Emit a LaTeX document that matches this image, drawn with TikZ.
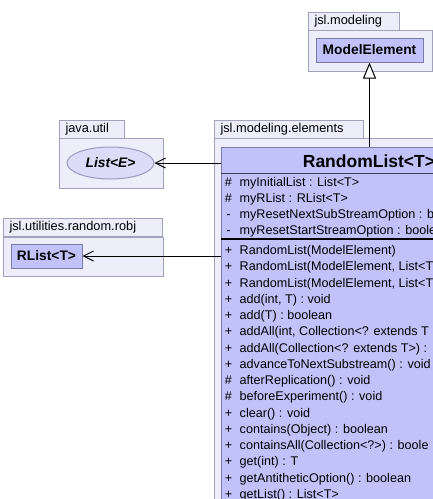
\documentclass[tikz,border=0pt]{standalone}
\usepackage{fontspec}
\setmainfont{Liberation Sans}
\usetikzlibrary{arrows.meta,shapes.geometric}

\definecolor{pkgfill}{HTML}{EEEEFB}
\definecolor{pkgdraw}{HTML}{A2A2BC}
\definecolor{clsfill}{HTML}{C2C2FB}
\definecolor{clsdraw}{HTML}{7A7AA8}
\definecolor{ifcfill}{HTML}{DCDCF8}

\tikzstyle{umlpkgtab}=[
    draw=pkgdraw, fill=pkgfill, line width=1pt,
    anchor=north west, align=left,
    inner xsep=6pt, inner ysep=0pt,
    minimum height=18pt, text height=9.5pt, text depth=2.7pt,
    font=\fontsize{12.8}{14}\selectfont,
]
\tikzstyle{umlpkgbody}=[
    draw=pkgdraw, fill=pkgfill, line width=1pt,
    anchor=north west, inner sep=0pt,
]
\tikzstyle{umlclass}=[
    draw=clsdraw, fill=clsfill, line width=1pt, inner sep=0pt,
    font=\fontsize{13.8}{15}\selectfont\bfseries,
]
\tikzstyle{umliface}=[
    ellipse, draw=clsdraw!75, fill=ifcfill, line width=1pt, inner sep=0pt,
    font=\fontsize{13.8}{15}\selectfont\bfseries\itshape,
]
\tikzstyle{umlvis}=[anchor=base, inner sep=0pt, font=\fontsize{12.6}{14}\selectfont]
\tikzstyle{umlmember}=[anchor=base west, inner sep=0pt, font=\fontsize{12.6}{14}\selectfont]
\tikzstyle{umlassoc}=[line width=1pt, -{Straight Barb[length=10pt,width=10pt]}]
\tikzstyle{umlgen}=[line width=1pt, -{Triangle[length=16pt,width=13pt,fill=white]}]

\begin{document}
\begin{tikzpicture}[x=1pt,y=-1pt]
    \useasboundingbox (0,0) rectangle (433,499);
    \clip (0,0) rectangle (433,499);

    % packages
    \node (pkgmodtab) at (308,12) [umlpkgtab, text width=79pt] {jsl.modeling};
    \node (pkgmod) at (308,30) [umlpkgbody, minimum width=124pt, minimum height=41pt] {};
    \node (pkgutiltab) at (59,120) [umlpkgtab, text width=53pt] {java.util};
    \node (pkgutil) at (59,138) [umlpkgbody, minimum width=104pt, minimum height=50pt] {};
    \node (pkgelemtab) at (214,120) [umlpkgtab, text width=137pt] {jsl.modeling.elements};
    \node (pkgelem) at (214,138) [umlpkgbody, minimum width=400pt, minimum height=500pt] {};
    \node (pkgrobjtab) at (3,218) [umlpkgtab, text width=147pt] {jsl.utilities.random.robj};
    \node (pkgrobj) at (3,237) [umlpkgbody, minimum width=160pt, minimum height=39pt] {};

    % classes
    \node (me) at (369.5,50) [umlclass, minimum width=107pt, minimum height=24pt] {ModelElement};
    \node (rlist) at (46.5,256) [umlclass, minimum width=71pt, minimum height=24pt] {RList<T>};
    \node (lst) at (110.5,163) [umliface, minimum width=87pt, minimum height=32pt] {List<E>};
    \node (rl) at (221,147) [umlclass, anchor=north west, minimum width=296pt, minimum height=400pt] {};
    \node (rltitle) at (369,167) [anchor=base, inner sep=0pt, font=\fontsize{17.5}{20}\selectfont\bfseries] {RandomList<T>};
    \draw[clsdraw!50!black, line width=0.8pt] (rl.west |- 0,173) -- (rl.east |- 0,173);
    \draw[line width=2pt] (rl.west |- 0,239) -- (rl.east |- 0,239);

    % fields
    \foreach \vis/\txt [count=\i] in {
        \#/{myInitialList : List<T>},
        \#/{myRList : RList<T>},
        -/{myResetNextSubStreamOption : bo},
        -/{myResetStartStreamOption : boole}}
    {
        \node (fvis\i) at (228.5,{186+16*(\i-1)}) [umlvis] {\vis};
        \node (fld\i) at (239.5,{186+16*(\i-1)}) [umlmember] {\txt};
    }

    % methods
    \foreach \vis/\txt [count=\i] in {
        +/{RandomList(ModelElement)},
        +/{RandomList(ModelElement, List<T},
        +/{RandomList(ModelElement, List<T},
        +/{add(int, T) : void},
        +/{add(T) : boolean},
        +/{addAll(int, Collection<? extends T},
        +/{addAll(Collection<? extends T>) :},
        +/{advanceToNextSubstream() : void},
        \#/{afterReplication() : void},
        \#/{beforeExperiment() : void},
        +/{clear() : void},
        +/{contains(Object) : boolean},
        +/{containsAll(Collection<?>) : boole},
        +/{get(int) : T},
        +/{getAntitheticOption() : boolean},
        +/{getList() : List<T>}}
    {
        \node (mvis\i) at (228.5,{254.5+16.25*(\i-1)}) [umlvis] {\vis};
        \node (mth\i) at (239.5,{254.5+16.25*(\i-1)}) [umlmember] {\txt};
    }

    % relations
    \draw[umlgen] (me.south |- rl.north) -- (me.south);
    \draw[umlassoc] (rl.west |- lst.east) -- (lst.east);
    \draw[umlassoc] (rl.west |- rlist.east) -- (rlist.east);
\end{tikzpicture}
\end{document}
